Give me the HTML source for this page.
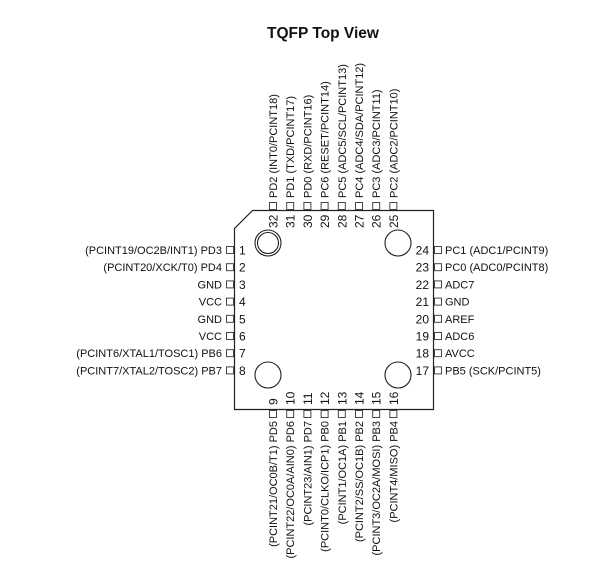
<!DOCTYPE html>
<html><head><meta charset="utf-8"><style>
html,body{margin:0;padding:0;background:#fff;}
svg{display:block;}
text{font-family:"Liberation Sans",Arial,sans-serif;fill:#111;}
</style></head><body>
<svg width="600" height="583" viewBox="0 0 600 583" xmlns="http://www.w3.org/2000/svg">
<text x="323" y="38" font-size="15.5" font-weight="bold" text-anchor="middle">TQFP Top View</text>
<path d="M252.5,210.5 L433.5,210.5 L433.5,409.5 L234.5,409.5 L234.5,228.5 Z" fill="none" stroke="#222" stroke-width="1.2"/>
<circle cx="268" cy="243" r="13" fill="none" stroke="#222" stroke-width="1.1"/>
<circle cx="268" cy="243" r="10.5" fill="none" stroke="#222" stroke-width="1.1"/>
<circle cx="398" cy="243" r="13" fill="none" stroke="#222" stroke-width="1.1"/>
<circle cx="268" cy="375" r="13" fill="none" stroke="#222" stroke-width="1.1"/>
<circle cx="398" cy="375" r="13" fill="none" stroke="#222" stroke-width="1.1"/>
<g id="g" font-size="11"></g>
</svg>
<script>
var g=document.getElementById('g'),ns='http://www.w3.org/2000/svg',h='';
var L=["(PCINT19/OC2B/INT1) PD3","(PCINT20/XCK/T0) PD4","GND","VCC","GND","VCC","(PCINT6/XTAL1/TOSC1) PB6","(PCINT7/XTAL2/TOSC2) PB7"];
var R=["PC1 (ADC1/PCINT9)","PC0 (ADC0/PCINT8)","ADC7","GND","AREF","ADC6","AVCC","PB5 (SCK/PCINT5)"];
var T=["PD2 (INT0/PCINT18)","PD1 (TXD/PCINT17)","PD0 (RXD/PCINT16)","PC6 (RESET/PCINT14)","PC5 (ADC5/SCL/PCINT13)","PC4 (ADC4/SDA/PCINT12)","PC3 (ADC3/PCINT11)","PC2 (ADC2/PCINT10)"];
var B=["(PCINT21/OC0B/T1) PD5","(PCINT22/OC0A/AIN0) PD6","(PCINT23/AIN1) PD7","(PCINT0/CLKO/ICP1) PB0","(PCINT1/OC1A) PB1","(PCINT2/SS/OC1B) PB2","(PCINT3/OC2A/MOSI) PB3","(PCINT4/MISO) PB4"];
var p=17.2;
for(var i=0;i<8;i++){
 var y=250+i*p;
 h+='<rect x="226.5" y="'+(y-3.5)+'" width="7" height="7" fill="none" stroke="#333" stroke-width="0.9"/>';
 h+='<text x="222" y="'+(y+4)+'" text-anchor="end">'+L[i]+'</text>';
 h+='<text x="239" y="'+(y+4.5)+'" font-size="12">'+(i+1)+'</text>';
 var yr=250+i*p;
 h+='<rect x="434.5" y="'+(yr-3.5)+'" width="7" height="7" fill="none" stroke="#333" stroke-width="0.9"/>';
 h+='<text x="445" y="'+(yr+4)+'">'+R[i]+'</text>';
 h+='<text x="429" y="'+(yr+4.5)+'" font-size="12" text-anchor="end">'+(24-i)+'</text>';
 var x=273+i*p;
 h+='<rect x="'+(x-3.5)+'" y="202.5" width="7" height="7" fill="none" stroke="#333" stroke-width="0.9"/>';
 h+='<text transform="translate('+(x+4)+',198) rotate(-90)">'+T[i]+'</text>';
 h+='<text transform="translate('+(x+4.5)+',228) rotate(-90)" font-size="12">'+(32-i)+'</text>';
 h+='<rect x="'+(x-3.5)+'" y="410.5" width="7" height="7" fill="none" stroke="#333" stroke-width="0.9"/>';
 h+='<text transform="translate('+(x+4)+',421) rotate(-90)" text-anchor="end">'+B[i]+'</text>';
 h+='<text transform="translate('+(x+4.5)+',405) rotate(-90)" font-size="12">'+(9+i)+'</text>';
}
g.innerHTML=h;
</script>
</body></html>
